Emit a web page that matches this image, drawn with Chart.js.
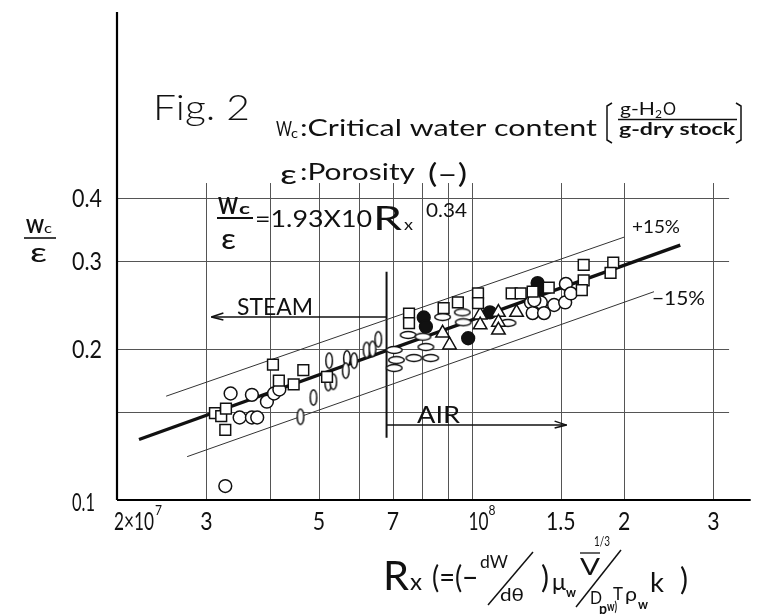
<!DOCTYPE html>
<html>
<head>
<meta charset="utf-8">
<script src="https://cdn.jsdelivr.net/npm/chart.js@4.4.1/dist/chart.umd.min.js"></script>
<style>
  html, body { margin: 0; background: #fff; }
</style>
</head>
<body>
<canvas id="fig" width="758" height="614"></canvas>
<script>
// ------------------ DATA ------------------
// Rx on x (log), Wc/eps on y (log)
const squarePts = [
  [3.12e7, 0.149], [3.21e7, 0.147], [3.28e7, 0.152], [3.27e7, 0.138],
  [4.06e7, 0.186], [4.17e7, 0.173], [4.46e7, 0.170], [4.66e7, 0.1815], [5.19e7, 0.176],
  [7.53e7, 0.235], [7.53e7, 0.225], [8.81e7, 0.241], [9.40e7, 0.2475], [1.03e8, 0.258],
  [1.03e8, 0.2466], [1.20e8, 0.258], [1.25e8, 0.258], [1.32e8, 0.260], [1.42e8, 0.265],
  [1.664e8, 0.294], [1.664e8, 0.274], [1.65e8, 0.262], [1.903e8, 0.297], [1.88e8, 0.2835]
];
const circlePts = [
  [3.35e7, 0.163], [3.69e7, 0.162], [3.49e7, 0.146], [3.69e7, 0.146], [3.78e7, 0.146],
  [3.95e7, 0.157], [4.08e7, 0.163], [4.18e7, 0.166], [3.27e7, 0.1066],
  [1.31e8, 0.2475], [1.37e8, 0.2475], [1.32e8, 0.2357], [1.39e8, 0.2357], [1.455e8, 0.2446],
  [1.53e8, 0.2475], [1.535e8, 0.2695], [1.57e8, 0.258], [1.33e8, 0.25]
];
const filledPts = [
  [8.05e7, 0.231], [8.13e7, 0.2215], [9.85e7, 0.210], [1.087e8, 0.2365], [1.35e8, 0.2705], [1.36e8, 0.265]
];
const trianglePts = [
  [8.77e7, 0.215], [9.05e7, 0.2036], [1.04e8, 0.2336], [1.04e8, 0.2232],
  [1.13e8, 0.2365], [1.13e8, 0.226], [1.13e8, 0.218], [1.227e8, 0.2365]
];
const vEllipsePts = [
  [4.60e7, 0.1465], [4.88e7, 0.160], [5.24e7, 0.1895], [5.22e7, 0.171], [5.34e7, 0.172],
  [5.68e7, 0.1915], [5.65e7, 0.181], [5.87e7, 0.1895], [6.21e7, 0.199], [6.38e7, 0.200], [6.55e7, 0.209]
];
const hEllipsePts = [
  [7.5e7, 0.2132], [7.04e7, 0.199], [7.11e7, 0.190], [7.04e7, 0.1832], [7.7e7, 0.1918],
  [8.31e7, 0.1918], [8.02e7, 0.2115], [8.13e7, 0.2017], [8.77e7, 0.2315], [9.59e7, 0.2365],
  [9.63e7, 0.226], [1.18e8, 0.2253]
];

// fitted line and +-15% band (end points)
const fitLine = [[2.21e7, 0.132], [2.58e8, 0.322]];
const plus15 = [[2.50e7, 0.161], [2.0e8, 0.334]];
const minus15 = [[2.75e7, 0.122], [2.29e8, 0.260]];

// STEAM / AIR markers
const dividerLine = [[6.8e7, 0.285], [6.8e7, 0.133]];
const steamArrow = [[6.8e7, 0.2315], [3.07e7, 0.2315]];
const airArrow = [[6.8e7, 0.141], [1.54e8, 0.141]];

// axes
const xMin = 2e7, xMax = 3.52e8, yMin = 0.1, yMax = 0.938;
const gridRx = [3e7, 4e7, 5e7, 6e7, 7e7, 8e7, 9e7, 1e8, 1.5e8, 2e8, 3e8];
const gridWe = [0.15, 0.2, 0.3, 0.4];
const gridTop = 0.428, gridRight = 3.22e8;
const xTickVals = [2e7, 3e7, 5e7, 7e7, 1e8, 1.5e8, 2e8, 3e8];
const xTickText = ['2×10', '3', '5', '7', '10', '1.5', '2', '3'];
const xTickSup = ['7', '', '', '', '8', '', '', ''];
const yTickVals = [0.4, 0.3, 0.2, 0.1];
const yTickText = ['0.4', '0.3', '0.2', '0.1'];

const toXY = arr => arr.map(p => ({ x: p[0], y: p[1] }));

// ------------------ helpers ------------------
const FONT = 'Lato, "DejaVu Sans", sans-serif';

function txt(ctx, s, x, y, size, w, weight) {
  ctx.save();
  ctx.font = `${weight || 400} ${size}px ${FONT}`;
  ctx.textBaseline = 'alphabetic';
  ctx.textAlign = 'left';
  const m = ctx.measureText(s).width;
  ctx.translate(x, y);
  if (w) ctx.scale(w / m, 1);
  ctx.fillStyle = '#111';
  ctx.fillText(s, 0, 0);
  ctx.restore();
}

function seg(ctx, x1, y1, x2, y2, lw) {
  ctx.lineWidth = lw || 1.3;
  ctx.beginPath();
  ctx.moveTo(x1, y1);
  ctx.lineTo(x2, y2);
  ctx.stroke();
}

function ellipseMark(rx, ry) {
  const c = document.createElement('canvas');
  c.width = Math.ceil(rx * 2 + 3);
  c.height = Math.ceil(ry * 2 + 3);
  const g = c.getContext('2d');
  g.beginPath();
  g.ellipse(c.width / 2, c.height / 2, rx, ry, 0, 0, Math.PI * 2);
  g.fillStyle = '#fff';
  g.fill();
  g.lineWidth = 1.5;
  g.strokeStyle = '#111';
  g.stroke();
  return c;
}

// ------------------ drawing plugin (grid, axes, labels) ------------------
const sketch = {
  id: 'sketch',
  beforeDatasetsDraw(chart) {
    const { ctx, scales: { x, y } } = chart;
    ctx.save();
    ctx.strokeStyle = '#555';
    gridRx.forEach(v => {
      const px = Math.round(x.getPixelForValue(v)) + 0.5;
      seg(ctx, px, y.getPixelForValue(gridTop), px, y.getPixelForValue(yMin), 1);
    });
    gridWe.forEach(v => {
      const py = Math.round(y.getPixelForValue(v)) + 0.5;
      seg(ctx, x.getPixelForValue(xMin), py, x.getPixelForValue(gridRight), py, 1);
    });
    // axes
    ctx.strokeStyle = '#000';
    const x0 = x.getPixelForValue(xMin), y0 = y.getPixelForValue(yMin);
    seg(ctx, x0, y.getPixelForValue(yMax), x0, y0, 2.2);
    seg(ctx, x0, y0, x.getPixelForValue(xMax) + 2, y0, 2.2);
    ctx.restore();
  },
  afterDatasetsDraw(chart) {
    const { ctx, scales: { x, y } } = chart;
    ctx.save();
    ctx.strokeStyle = '#111';
    ctx.fillStyle = '#111';

    // arrow heads
    const sp = steamArrow[1], ap = airArrow[1];
    let px = x.getPixelForValue(sp[0]), py = y.getPixelForValue(sp[1]);
    seg(ctx, px, py, px + 12, py - 4, 1.5);
    seg(ctx, px, py, px + 12, py + 3, 1.5);
    px = x.getPixelForValue(ap[0]); py = y.getPixelForValue(ap[1]);
    seg(ctx, px, py, px - 12, py - 4, 1.5);
    seg(ctx, px, py, px - 12, py + 3, 1.5);

    // tick labels
    yTickVals.forEach((v, i) => {
      const w = yTickText[i] === '0.1' ? 23 : 30;
      txt(ctx, yTickText[i], 72, y.getPixelForValue(v) + (v === 0.1 ? 11 : 9), 25, w);
    });
    xTickVals.forEach((v, i) => {
      const cx = x.getPixelForValue(v);
      const s = xTickText[i];
      if (i === 0) {
        txt(ctx, s, cx - 3, 530, 25, 40);
        txt(ctx, xTickSup[i], cx + 38, 515, 14, 7);
      } else if (xTickSup[i]) {
        txt(ctx, s, cx - 3, 530, 25, 20);
        txt(ctx, xTickSup[i], cx + 17, 515, 14, 7);
      } else {
        ctx.save();
        ctx.font = `400 25px ${FONT}`;
        const m = ctx.measureText(s).width * 0.85;
        ctx.restore();
        txt(ctx, s, cx - m / 2, 530, 25, m);
      }
    });

    // y-axis title
    txt(ctx, 'W', 26, 233, 19, 18, 700);
    txt(ctx, 'c', 44, 233, 14, 8, 400);
    seg(ctx, 24, 238, 56, 238, 1.6);
    txt(ctx, 'ε', 30, 262, 27, 17);

    // x-axis title
    txt(ctx, 'R', 383, 590, 40, 26);
    txt(ctx, 'x', 410, 590, 24, 12);
    txt(ctx, '(=(−', 432, 588, 30, 46);
    txt(ctx, 'dW', 480, 568, 18, 28);
    txt(ctx, 'dθ', 500, 601, 18, 24);
    seg(ctx, 488, 605, 533, 552, 1.5);
    txt(ctx, ')', 541, 588, 30, 8);
    txt(ctx, 'μ', 552, 590, 24, 14);
    txt(ctx, 'w', 566, 597, 14, 10, 700);
    txt(ctx, 'V', 580, 575, 24, 20);
    seg(ctx, 580, 553, 600, 553, 1.3);
    txt(ctx, '1/3', 594, 546, 14, 16);
    seg(ctx, 576, 607, 621, 550, 1.5);
    txt(ctx, 'D', 590, 604, 18, 12);
    txt(ctx, 'p', 599, 614, 15, 8, 700);
    txt(ctx, 'w)', 607, 611, 13, 10, 700);
    txt(ctx, 'T', 613, 600, 18, 10);
    txt(ctx, 'ρ', 625, 601, 20, 12);
    txt(ctx, 'w', 638, 609, 13, 10, 700);
    txt(ctx, 'k', 650, 592, 26, 14);
    txt(ctx, ')', 680, 590, 30, 8);

    // figure title and legend text
    txt(ctx, 'Fig. 2', 153, 120, 36, 97, 300);
    txt(ctx, 'W', 276, 136, 22, 16);
    txt(ctx, 'c', 291, 138, 13, 7);
    txt(ctx, ':Critical water content', 300, 136, 24, 297);
    ctx.lineWidth = 1.5;
    ctx.beginPath();
    ctx.moveTo(612, 103); ctx.lineTo(607, 106); ctx.lineTo(607, 140); ctx.lineTo(612, 143);
    ctx.moveTo(736, 103); ctx.lineTo(741, 106); ctx.lineTo(741, 140); ctx.lineTo(736, 143);
    ctx.stroke();
    txt(ctx, 'g-H', 620, 115, 17, 35);
    txt(ctx, '2', 655, 118, 11, 7);
    txt(ctx, 'O', 663, 115, 17, 13);
    seg(ctx, 618, 119.5, 737, 119.5, 1.5);
    txt(ctx, 'g-dry stock', 619, 135, 17, 116, 700);

    txt(ctx, 'ε', 280, 184, 27, 17);
    txt(ctx, ':Porosity', 300, 180, 24, 115);
    txt(ctx, '(–)', 428, 183, 27, 39);

    // regression formula
    txt(ctx, 'W', 218, 214, 22, 20, 700);
    txt(ctx, 'c', 239, 214, 15, 11, 700);
    seg(ctx, 217, 218, 253, 218, 2);
    txt(ctx, 'ε', 221, 249, 29, 15);
    txt(ctx, '=1.93X10', 255, 227, 24, 117);
    txt(ctx, 'R', 373, 230, 32, 29);
    txt(ctx, 'x', 404, 230, 16, 9);
    txt(ctx, '0.34', 426, 217, 20, 41);

    // band / region labels
    txt(ctx, '+15%', 632, 233, 17, 48);
    txt(ctx, '−15%', 652, 305, 20, 53);
    txt(ctx, 'STEAM', 237, 315, 24, 76);
    txt(ctx, 'AIR', 417, 423, 24, 43);
    ctx.restore();
  }
};

// ------------------ chart ------------------
const markStyle = { borderColor: '#111', backgroundColor: '#fff', borderWidth: 1.5, order: 0 };
const lineStyle = { showLine: true, pointRadius: 0, borderColor: '#111', order: 10, fill: false };

new Chart(document.getElementById('fig'), {
  type: 'scatter',
  data: {
    datasets: [
      { ...markStyle, data: toXY(squarePts), pointStyle: 'rect', pointRadius: 7.6 },
      { ...markStyle, data: toXY(circlePts), pointStyle: 'circle', pointRadius: 6.4 },
      { ...markStyle, data: toXY(trianglePts), pointStyle: 'triangle', pointRadius: 7.8 },
      { ...markStyle, data: toXY(filledPts), pointStyle: 'circle', pointRadius: 6.4, backgroundColor: '#111' },
      { ...markStyle, data: toXY(vEllipsePts), pointStyle: ellipseMark(3.3, 7.8) },
      { ...markStyle, data: toXY(hEllipsePts), pointStyle: ellipseMark(7.8, 3.4) },
      { ...lineStyle, data: toXY(fitLine), borderWidth: 3.4 },
      { ...lineStyle, data: toXY(plus15), borderWidth: 1, borderColor: '#333' },
      { ...lineStyle, data: toXY(minus15), borderWidth: 1, borderColor: '#333' },
      { ...lineStyle, data: toXY(dividerLine), borderWidth: 2 },
      { ...lineStyle, data: toXY(steamArrow), borderWidth: 1.5 },
      { ...lineStyle, data: toXY(airArrow), borderWidth: 1.5 }
    ]
  },
  options: {
    responsive: false,
    devicePixelRatio: 1,
    animation: false,
    layout: { padding: { left: 117, right: 1, top: 12, bottom: 114 } },
    plugins: { legend: { display: false }, tooltip: { enabled: false } },
    scales: {
      x: { type: 'logarithmic', min: xMin, max: xMax, display: false },
      y: { type: 'logarithmic', min: yMin, max: yMax, display: false }
    }
  },
  plugins: [sketch]
});
</script>
</body>
</html>
